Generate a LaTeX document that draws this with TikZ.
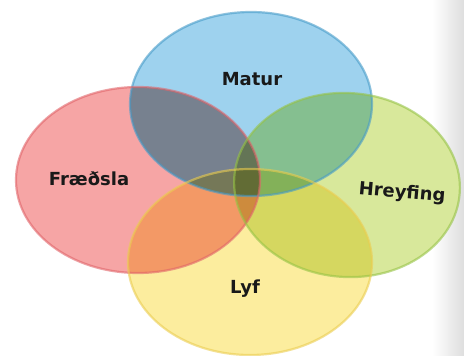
\documentclass[tikz,border=0pt]{standalone}
\usepackage{fontspec}
\setmainfont{DejaVu Sans}
\definecolor{bluef}{RGB}{158,210,238}
\definecolor{blued}{RGB}{70,155,200}
\definecolor{redf}{RGB}{246,165,165}
\definecolor{redd}{RGB}{225,100,105}
\definecolor{greenf}{RGB}{216,232,155}
\definecolor{greend}{RGB}{150,195,70}
\definecolor{yellowf}{RGB}{252,237,158}
\definecolor{yellowd}{RGB}{235,205,80}
\definecolor{neutral}{RGB}{200,245,238}
\definecolor{edgegray}{RGB}{222,222,222}
\tikzset{
  rim/.style={line width=2.2pt, opacity=0.6},
  label/.style={font=\bfseries\fontsize{18}{20}\selectfont, text=black!90},
  bluep/.style={insert path={(251,104) ellipse [x radius=121, y radius=92]}},
  redp/.style={insert path={(138,180) ellipse [x radius=122, y radius=93]}},
  greenp/.style={insert path={(347,185) ellipse [x radius=113, y radius=92]}},
  yellowp/.style={insert path={(250,262) ellipse [x radius=122, y radius=93]}}
}
\begin{document}
\begin{tikzpicture}[x=1pt,y=-1pt]
\useasboundingbox (0,0) rectangle (464,356);
\fill[white] (0,0) rectangle (464,356);
\shade[left color=white, right color=edgegray] (432,0) rectangle (464,356);
\begin{scope}[blend group=multiply]
  \fill[bluef] [bluep];
  \fill[redf] [redp];
  \fill[greenf, rotate around={-4:(347,185)}] [greenp];
  \fill[yellowf] [yellowp];
  \begin{scope}
    \clip [bluep];
    \fill[neutral] [redp];
  \end{scope}
\end{scope}
\draw[rim, blued] [bluep];
\draw[rim, redd] [redp];
\draw[rim, greend, rotate around={-4:(347,185)}] [greenp];
\draw[rim, yellowd] [yellowp];
\node[label] (matur) at (252,79) {Matur};
\node[label] (fraedsla) at (89,179) {Fræðsla};
\node[label, rotate=-5] (hreyfing) at (402,193) {Hreyfing};
\node[label] (lyf) at (245,289) {Lyf};
\end{tikzpicture}
\end{document}
